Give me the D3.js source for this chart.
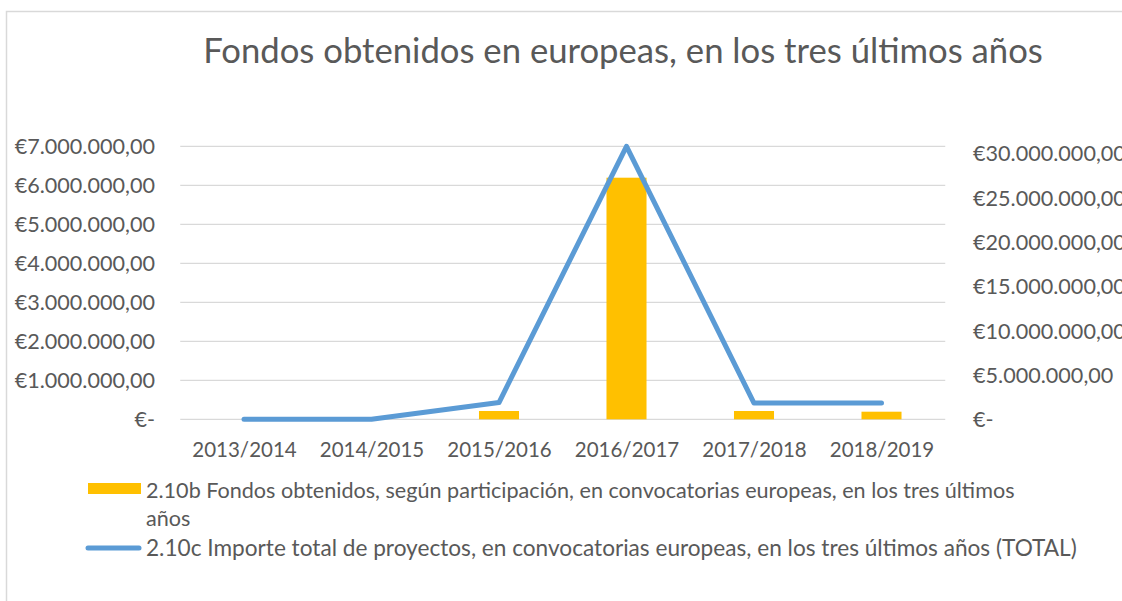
<!DOCTYPE html>
<html>
<head>
<meta charset="utf-8">
<script src="https://cdn.jsdelivr.net/npm/d3@7"></script>
<style>
  html, body { margin: 0; padding: 0; background: #fff; }
  svg { display: block; }
  text { font-family: Lato, "Open Sans", sans-serif; fill: #595959; }
</style>
</head>
<body>
<svg id="chart" width="1122" height="601"></svg>
<script>
// ---- data ----
const categories = ["2013/2014", "2014/2015", "2015/2016", "2016/2017", "2017/2018", "2018/2019"];
const fondosObtenidos = [null, null, 213000, 6195000, 213000, 195000];           // 2.10b (left axis)
const importeTotal = [0, 0, 1890000, 30800000, 1830000, 1830000];               // 2.10c (right axis)
const leftTickValues = [0, 1000000, 2000000, 3000000, 4000000, 5000000, 6000000, 7000000];
const leftTickLabels = ["€-", "€1.000.000,00", "€2.000.000,00", "€3.000.000,00", "€4.000.000,00", "€5.000.000,00", "€6.000.000,00", "€7.000.000,00"];
const rightTickValues = [0, 5000000, 10000000, 15000000, 20000000, 25000000, 30000000];
const rightTickLabels = ["€-", "€5.000.000,00", "€10.000.000,00", "€15.000.000,00", "€20.000.000,00", "€25.000.000,00", "€30.000.000,00"];
const titleText = "Fondos obtenidos en europeas, en los tres últimos años";
const legendBarLines = ["2.10b Fondos obtenidos, según participación, en convocatorias europeas, en los tres últimos", "años"];
const legendLineText = "2.10c Importe total de proyectos, en convocatorias europeas, en los tres últimos años (TOTAL)";

// ---- layout ----
const svg = d3.select("#chart");
const plot = { left: 180.25, right: 945.25, top: 146.3, bottom: 419.3 };
const textColor = "#595959", gridColor = "#d9d9d9";

// outer border
svg.append("path")
  .attr("d", "M6.5,601 L6.5,11.5 L1122,11.5")
  .attr("fill", "none").attr("stroke", gridColor).attr("stroke-width", 1.5);

function fitFont(sel, target) {
  const w = sel.node().getComputedTextLength();
  const fs = parseFloat(sel.attr("font-size"));
  sel.attr("font-size", fs * target / w);
  return fs * target / w;
}

// scales
const x = d3.scaleBand().domain(categories).range([plot.left, plot.right]).paddingInner(0.686).paddingOuter(0.343);
const xc = d3.scalePoint().domain(categories).range([plot.left, plot.right]).padding(0.5);
const yL = d3.scaleLinear().domain([0, 7000000]).range([plot.bottom, plot.top]);
const yR = d3.scaleLinear().domain([0, 30800000]).range([plot.bottom, plot.top]);

// gridlines
svg.append("g").selectAll("line").data(leftTickValues).join("line")
  .attr("x1", plot.left).attr("x2", plot.right)
  .attr("y1", d => yL(d)).attr("y2", d => yL(d))
  .attr("stroke", gridColor).attr("stroke-width", 1.3);

// left axis
const leftAxis = d3.axisLeft(yL).tickValues(leftTickValues)
  .tickFormat((d, i) => leftTickLabels[i]).tickSize(0).tickPadding(0);
const gL = svg.append("g").attr("transform", `translate(155,0)`).call(leftAxis);
gL.select(".domain").remove();
gL.selectAll("text").attr("font-size", 21.6).attr("fill", textColor).attr("dy", "0.35em")
  .style("font-family", "Lato, 'Open Sans', sans-serif");

// right axis
const rightAxis = d3.axisRight(yR).tickValues(rightTickValues)
  .tickFormat((d, i) => rightTickLabels[i]).tickSize(0).tickPadding(0);
const gR = svg.append("g").attr("transform", `translate(973,0)`).call(rightAxis);
gR.select(".domain").remove();
gR.selectAll("text").attr("font-size", 21.6).attr("fill", textColor).attr("dy", "0.35em")
  .style("font-family", "Lato, 'Open Sans', sans-serif");

// bottom axis
const bottomAxis = d3.axisBottom(xc).tickSize(0).tickPadding(0);
const gB = svg.append("g").attr("transform", `translate(0,450)`).call(bottomAxis);
gB.select(".domain").remove();
gB.selectAll("text").attr("font-size", 20.5).attr("fill", textColor).attr("dy", "0.35em")
  .style("font-family", "Lato, 'Open Sans', sans-serif");

// bars
svg.append("g").selectAll("rect")
  .data(categories.map((c, i) => ({ c, v: fondosObtenidos[i] })).filter(d => d.v != null))
  .join("rect")
  .attr("x", d => x(d.c)).attr("width", x.bandwidth())
  .attr("y", d => yL(d.v)).attr("height", d => yL(0) - yL(d.v))
  .attr("fill", "#ffc000");

// line
const line = d3.line().x((d, i) => xc(categories[i])).y(d => yR(d));
svg.append("path").datum(importeTotal)
  .attr("d", line).attr("fill", "none")
  .attr("stroke", "#5b9bd5").attr("stroke-width", 5)
  .attr("stroke-linejoin", "round").attr("stroke-linecap", "round");

// title
const title = svg.append("text").attr("x", 623).attr("y", 63).attr("text-anchor", "middle")
  .attr("font-size", 29).text(titleText);
fitFont(title, 840);

// legend
const lg = svg.append("g");
lg.append("rect").attr("x", 88).attr("y", 483).attr("width", 53).attr("height", 11).attr("fill", "#ffc000");
const l1 = lg.append("text").attr("x", 146).attr("y", 490).attr("dy", "0.35em").attr("font-size", 20).text(legendBarLines[0]);
const lfs = fitFont(l1, 869);
lg.append("text").attr("x", 146).attr("y", 518).attr("dy", "0.35em").attr("font-size", lfs).text(legendBarLines[1]);
lg.append("line").attr("x1", 88).attr("x2", 139).attr("y1", 548).attr("y2", 548)
  .attr("stroke", "#5b9bd5").attr("stroke-width", 5).attr("stroke-linecap", "round");
const l3 = lg.append("text").attr("x", 146).attr("y", 548).attr("dy", "0.35em").attr("font-size", 20).text(legendLineText);
fitFont(l3, 931);
</script>
</body>
</html>
